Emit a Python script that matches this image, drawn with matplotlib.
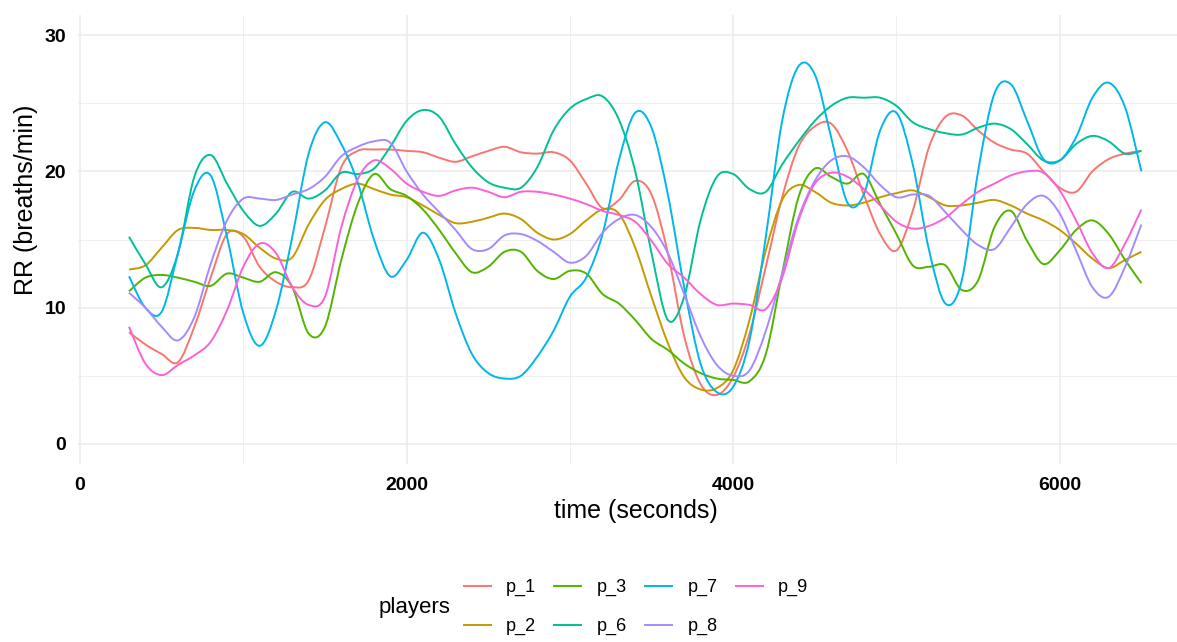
import matplotlib
matplotlib.use("Agg")
import matplotlib.pyplot as plt
from matplotlib.ticker import MultipleLocator
from matplotlib.path import Path
from matplotlib.patches import PathPatch
from matplotlib.lines import Line2D

# ------------------------------------------------------------
# data (smoothed RR per player)
# sampled every 100 s from 300 s to 6500 s
# ------------------------------------------------------------
time_s = list(range(300, 6600, 100))

p_1 = [8.2, 7.3, 6.6, 6.0, 8.6, 12.2, 15.4, 15.2, 13.0, 11.9, 11.5, 12.0, 15.9,
       20.3, 21.5, 21.6, 21.6, 21.5, 21.4, 21.0, 20.7, 21.1, 21.5, 21.8, 21.4,
       21.3, 21.4, 20.8, 19.1, 17.3, 17.9, 19.3, 18.3, 14.0, 7.9, 4.4, 3.6, 4.9,
       8.1, 13.0, 18.1, 21.8, 23.3, 23.5, 21.5, 18.3, 15.4, 14.2, 17.1, 21.8,
       24.0, 24.1, 23.0, 22.1, 21.6, 21.3, 20.0, 18.8, 18.5, 20.0, 20.9, 21.3, 21.5]
p_2 = [12.8, 13.1, 14.4, 15.7, 15.85, 15.7, 15.7, 15.4, 14.4, 13.6, 13.7, 16.1,
       17.9, 18.7, 19.1, 18.7, 18.3, 18.1, 17.5, 16.8, 16.2, 16.3, 16.6, 16.9,
       16.5, 15.5, 15.0, 15.4, 16.4, 17.2, 16.9, 14.4, 10.8, 7.4, 4.9, 4.0, 4.1,
       5.4, 9.1, 14.2, 17.9, 19.0, 18.5, 17.7, 17.5, 17.7, 18.1, 18.4, 18.6, 18.1,
       17.5, 17.5, 17.7, 17.9, 17.5, 16.9, 16.4, 15.7, 14.7, 13.6, 12.9, 13.5, 14.1]
p_3 = [11.2, 12.2, 12.4, 12.2, 11.9, 11.6, 12.5, 12.2, 11.9, 12.6, 11.5, 8.1, 8.6,
       13.5, 17.6, 19.8, 18.7, 18.2, 17.2, 15.7, 14.0, 12.6, 13.0, 14.1, 14.1,
       12.7, 12.1, 12.7, 12.5, 11.0, 10.3, 9.1, 7.7, 6.9, 5.9, 5.2, 4.8, 4.7, 4.6,
       6.6, 12.5, 18.1, 20.2, 19.6, 19.1, 19.8, 17.6, 15.4, 13.1, 13.0, 13.1, 11.3,
       12.0, 15.9, 17.1, 14.9, 13.2, 14.2, 15.7, 16.4, 15.4, 13.5, 11.8]
p_6 = [15.2, 13.2, 11.5, 14.0, 19.6, 21.2, 19.1, 17.1, 16.0, 16.9, 18.5, 18.0,
       18.6, 19.9, 19.8, 20.2, 21.8, 23.7, 24.5, 24.0, 22.0, 20.3, 19.2, 18.8,
       18.8, 20.3, 23.0, 24.6, 25.3, 25.5, 23.8, 20.0, 14.0, 9.1, 10.8, 16.4, 19.6,
       19.8, 18.7, 18.5, 20.5, 22.2, 23.7, 24.8, 25.4, 25.4, 25.4, 24.8, 23.6, 23.1,
       22.8, 22.7, 23.2, 23.5, 23.1, 22.0, 20.8, 20.8, 22.0, 22.6, 22.2, 21.3, 21.5]
p_7 = [12.3, 10.0, 9.7, 14.0, 18.6, 19.7, 15.2, 9.6, 7.2, 9.8, 15.2, 21.3, 23.6,
       22.0, 19.2, 15.0, 12.3, 13.5, 15.5, 13.5, 9.6, 6.6, 5.2, 4.8, 5.0, 6.4, 8.3,
       10.8, 12.2, 15.4, 20.8, 24.3, 23.2, 18.3, 11.5, 5.9, 3.8, 4.2, 7.6, 15.2,
       23.7, 27.7, 27.1, 22.5, 17.7, 18.3, 23.0, 24.3, 20.5, 14.2, 10.3, 12.0, 20.0,
       25.7, 26.4, 23.7, 20.9, 20.8, 22.5, 25.4, 26.5, 24.7, 20.0]
p_8 = [11.1, 10.0, 8.6, 7.6, 9.3, 13.2, 16.4, 18.0, 18.0, 17.9, 18.3, 18.7, 19.6,
       21.1, 21.8, 22.2, 22.1, 20.0, 18.3, 17.0, 15.7, 14.3, 14.3, 15.3, 15.4,
       14.9, 14.1, 13.3, 13.8, 15.5, 16.5, 16.8, 15.9, 14.0, 11.0, 7.9, 5.8, 5.0,
       5.4, 8.3, 12.5, 16.6, 19.3, 20.8, 21.1, 20.3, 19.0, 18.1, 18.3, 18.2, 17.0,
       15.7, 14.6, 14.3, 15.9, 17.6, 18.2, 16.9, 14.2, 11.5, 10.8, 13.0, 16.1]
p_9 = [8.6, 5.9, 5.05, 5.8, 6.5, 7.5, 9.8, 13.0, 14.7, 14.0, 11.5, 10.2, 10.8,
       15.9, 19.4, 20.8, 20.2, 19.1, 18.5, 18.2, 18.6, 18.8, 18.5, 18.1, 18.5,
       18.5, 18.3, 18.0, 17.6, 17.1, 16.8, 16.3, 14.9, 13.2, 12.2, 11.0, 10.2,
       10.3, 10.2, 9.9, 12.2, 16.4, 19.1, 19.9, 19.6, 18.7, 17.5, 16.3, 15.8, 16.0,
       16.6, 17.6, 18.5, 19.1, 19.7, 20.0, 19.9, 18.6, 16.4, 14.0, 12.9, 14.7, 17.2]

players = ["p_1", "p_2", "p_3", "p_6", "p_7", "p_8", "p_9"]
series = [p_1, p_2, p_3, p_6, p_7, p_8, p_9]
# ggplot default hue palette for 7 groups
cores = ["#F8766D", "#C49A00", "#53B400", "#00C094", "#00B6EB", "#A58AFF", "#FB61D7"]

for s in series:
    assert len(s) == len(time_s)


def caminho_suave(xs, ys):
    """Curva que passa por todos os pontos (Bezier estilo Catmull-Rom)."""
    pts = list(zip(xs, ys))
    verts = [pts[0]]
    codes = [Path.MOVETO]
    n = len(pts)
    for i in range(n - 1):
        p0 = pts[max(i - 1, 0)]
        p1 = pts[i]
        p2 = pts[i + 1]
        p3 = pts[min(i + 2, n - 1)]
        c1 = (p1[0] + (p2[0] - p0[0]) / 6, p1[1] + (p2[1] - p0[1]) / 6)
        c2 = (p2[0] - (p3[0] - p1[0]) / 6, p2[1] - (p3[1] - p1[1]) / 6)
        verts += [c1, c2, p2]
        codes += [Path.CURVE4] * 3
    return Path(verts, codes)


# ------------------------------------------------------------
# figure
# ------------------------------------------------------------
plt.rcParams['font.family'] = ['Liberation Sans', 'DejaVu Sans']

W, H = 1177, 642
fig = plt.figure(figsize=(W / 100, H / 100), dpi=100)
# panel runs past the right edge of the image, like the reference
ax = fig.add_axes([78.4 / W, (H - 464) / H, (1192 - 78.4) / W, 449 / H])

handles = []
for nome, vals, cor in zip(players, series, cores):
    ax.add_patch(PathPatch(caminho_suave(time_s, vals), facecolor='none',
                           edgecolor=cor, linewidth=1.4, capstyle='butt'))
    handles.append(Line2D([], [], color=cor, linewidth=1.4, label=nome))

ax.set_xlim(-10, 6810)
ax.set_ylim(-1.47, 31.47)
ax.xaxis.set_major_locator(MultipleLocator(2000))
ax.xaxis.set_minor_locator(MultipleLocator(1000))
ax.yaxis.set_major_locator(MultipleLocator(10))
ax.yaxis.set_minor_locator(MultipleLocator(5))

ax.grid(True, which='major', color='#EBEBEB', linewidth=1.1)
ax.grid(True, which='minor', color='#EBEBEB', linewidth=0.55)
ax.set_axisbelow(True)
for sp in ax.spines.values():
    sp.set_visible(False)
ax.tick_params(which='both', length=0)
ax.tick_params(axis='x', pad=9, labelsize=14)
ax.tick_params(axis='y', pad=9, labelsize=14)
for lab in ax.get_xticklabels() + ax.get_yticklabels():
    lab.set_fontweight('bold')
    lab.set_color('black')

fig.text(636 / W, 1 - 511 / H, 'time (seconds)', fontsize=18,
         ha='center', va='center')
fig.text(26 / W, 1 - 200 / H, 'RR (breaths/min)', fontsize=18,
         ha='center', va='center', rotation=90)

# legend at the bottom, title on the left
fig.text(379 / W, 1 - 607 / H, 'players', fontsize=16, ha='left', va='center')
leg = fig.legend(handles=handles, loc='center',
                 bbox_to_anchor=(636 / W, 1 - 607 / H),
                 ncol=4, frameon=False, fontsize=13, handlelength=1.5,
                 handletextpad=0.85, columnspacing=1.0, labelspacing=1.2,
                 borderpad=0)

fig.savefig('out.png', dpi=100)
